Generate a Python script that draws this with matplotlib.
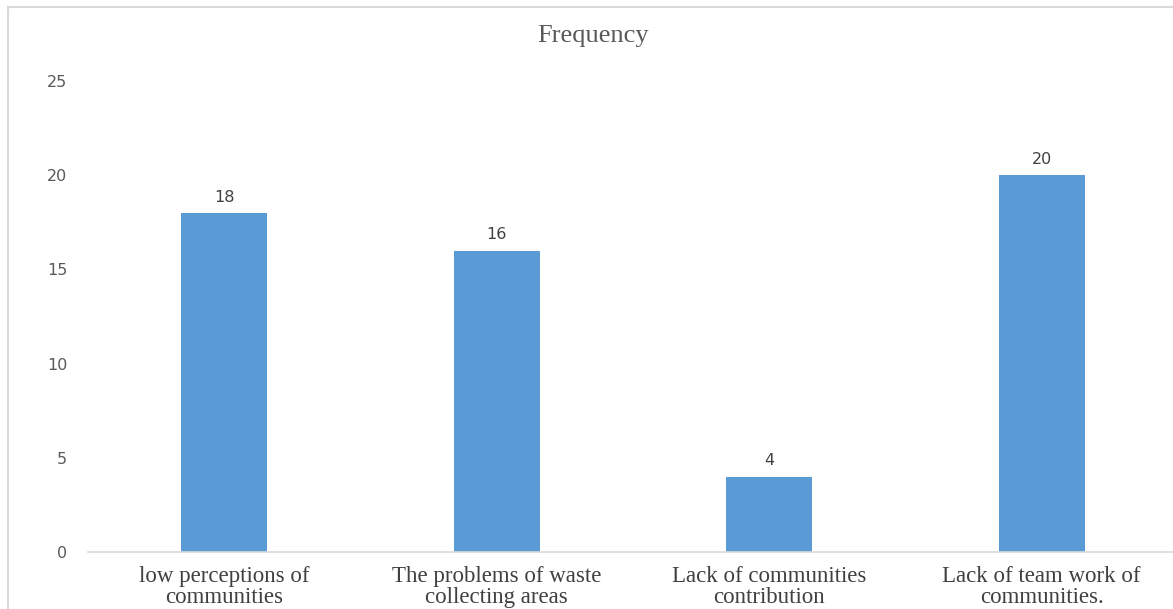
import matplotlib
matplotlib.use("Agg")
import matplotlib.pyplot as plt
from matplotlib.patches import Rectangle

categories = ["low perceptions of\ncommunities", "The problems of waste\ncollecting areas",
              "Lack of communities\ncontribution", "Lack of team work of\ncommunities."]
values = [18, 16, 4, 20]
yticks = [0, 5, 10, 15, 20, 25]

W, H = 1173, 609
fig = plt.figure(figsize=(W / 100, H / 100), dpi=100)

# outer chart border (light gray), cut off at right/bottom
fig.patches.append(Rectangle((8 / W, -0.1), 1.2, (609 - 7) / H + 0.1, transform=fig.transFigure,
                             fill=False, edgecolor="#d9d9d9", linewidth=1.5))

ax = fig.add_axes([88 / W, (H - 552) / H, 1090 / W, 471 / H])
x = range(len(values))
bars = ax.bar(x, values, width=0.315, color="#5B9BD5")
ax.set_xlim(-0.5, 3.5)
ax.set_ylim(0, 25)
ax.set_yticks(yticks)
ax.set_yticklabels([str(t) for t in yticks], fontsize=11.5, color="#595959")
ax.set_xticks(list(x))
ax.set_xticklabels(categories, fontsize=16.5, family="Liberation Serif", color="#404040",
                   linespacing=1.02)
ax.tick_params(axis="both", length=0)
ax.tick_params(axis="y", pad=15)
ax.tick_params(axis="x", pad=10)
for s in ["top", "right", "left"]:
    ax.spines[s].set_visible(False)
ax.spines["bottom"].set_color("#d9d9d9")
ax.spines["bottom"].set_linewidth(1.2)

for b, v in zip(bars, values):
    ax.annotate(str(v), (b.get_x() + b.get_width() / 2, v), xytext=(0, 6),
                textcoords="offset points", ha="center", va="bottom",
                fontsize=11.5, color="#404040")

fig.text(593 / W, 1 - 36 / H, "Frequency", ha="center", va="center",
         fontsize=19, family="Liberation Serif", color="#595959")

fig.savefig("out.png", dpi=100)
